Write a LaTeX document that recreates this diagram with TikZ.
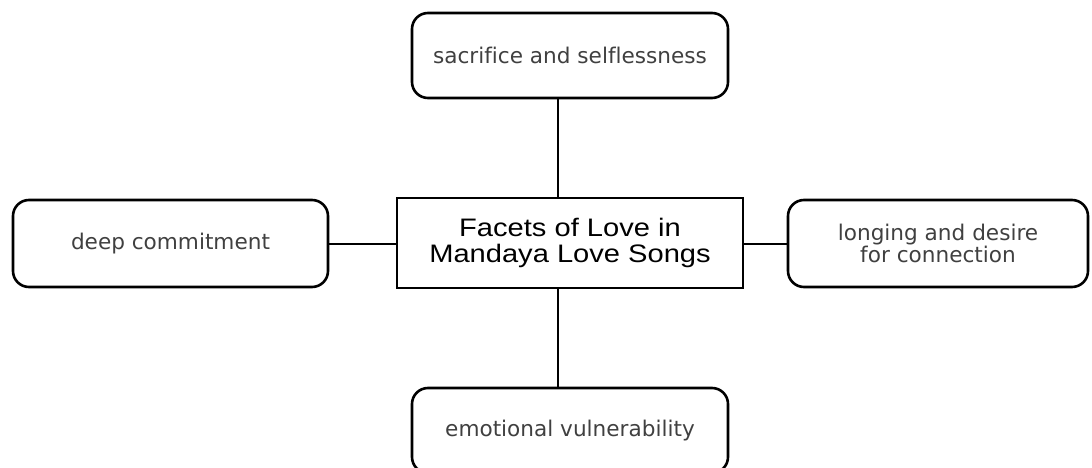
\documentclass[tikz,border=0pt]{standalone}
\usepackage{fontspec}
\setmainfont[Ligatures=NoCommon]{DejaVu Sans}
\newfontfamily\hubfont[FakeStretch=1.15]{Liberation Sans}

\begin{document}
\begin{tikzpicture}[x=1pt,y=-1pt,
		facet/.style={draw, line width=2.6pt, rounded corners=16pt,
			minimum width=316pt, minimum height=85pt, align=center,
			text=black!75, font=\fontsize{21.6}{22}\selectfont},
		hub/.style={draw, line width=2.6pt, minimum width=346pt,
			minimum height=90pt, align=center,
			font=\hubfont\fontsize{25.3}{26}\selectfont},
		link/.style={line width=2pt}]
		% frame
		\clip (0,0) rectangle (1092,468);
		
		% centre
		\node[hub] (hub) at (570,243) {Facets of Love in\\Mandaya Love Songs};
		\coordinate (spine) at (558,243);
		
		% facets
		\node[facet] (top) at (570,55.5) {sacrifice and selflessness};
		\node[facet, minimum width=315pt, minimum height=87pt] (left) at (170.5,243.5) {deep commitment};
		\node[facet, minimum width=300pt, minimum height=87pt] (right) at (938,243.5) {longing and desire\\for connection};
		\node[facet] (bottom) at (570,430.5) {emotional vulnerability};
		
		% links
		\draw[link] (top.south -| spine) -- (hub.north -| spine);
		\draw[link] (hub.south -| spine) -- (bottom.north -| spine);
		\draw[link] (left.east) -- (left.east -| hub.west);
		\draw[link] (hub.east |- right.west) -- (right.west);
	\end{tikzpicture}
\end{document}
